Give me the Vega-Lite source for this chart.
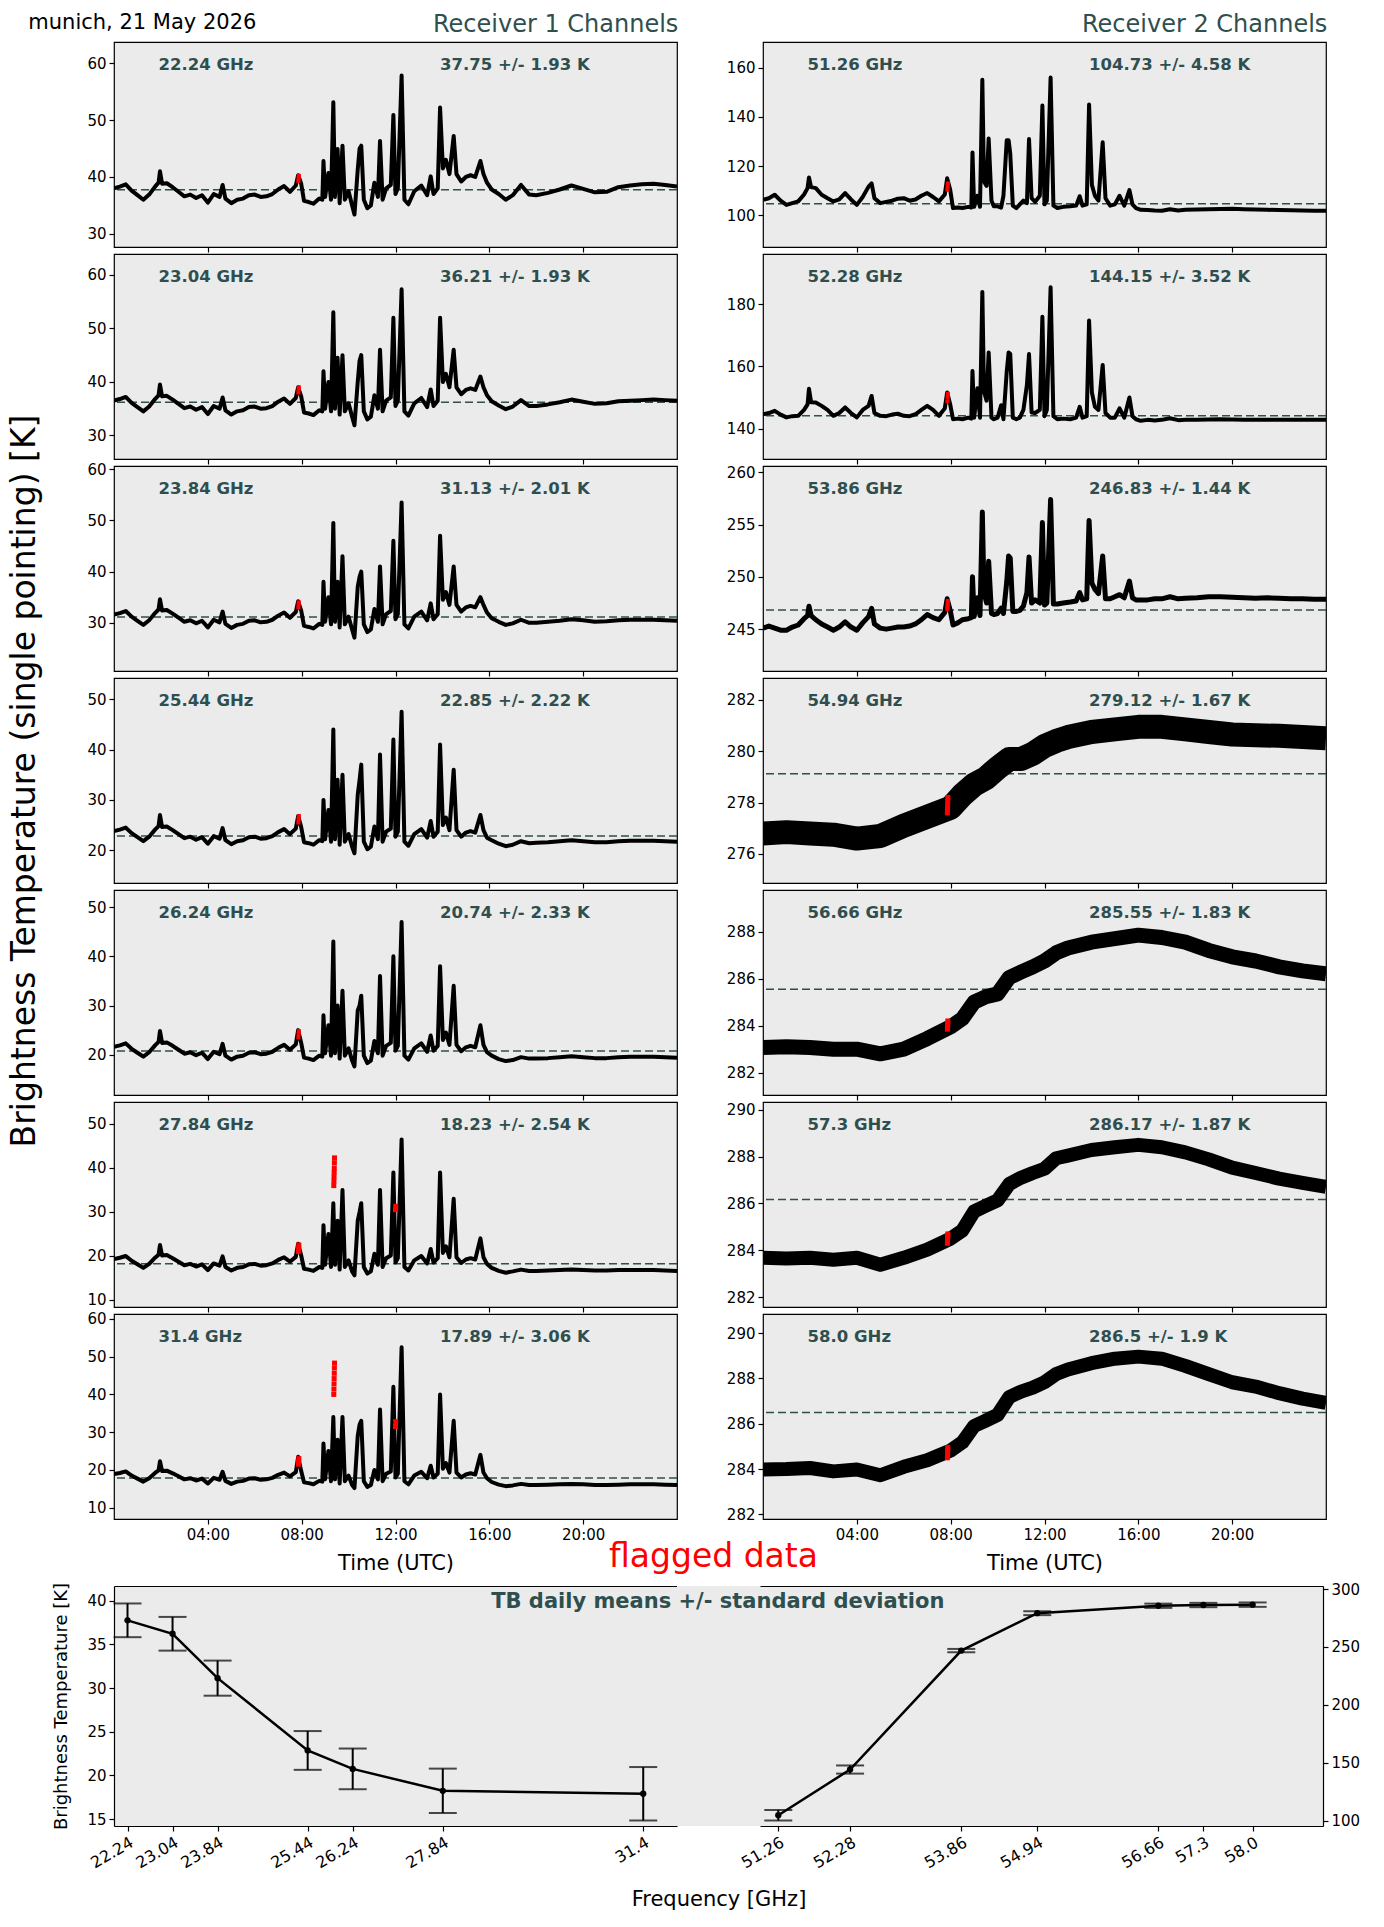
{
  "$schema": "https://vega.github.io/schema/vega-lite/v6.json",
  "padding": {"left": 8, "top": 12, "right": 8, "bottom": 5},
  "config": {
    "font": "DejaVu Sans",
    "view": {"fill": "#ebebeb", "stroke": "black", "strokeWidth": 1.2},
    "axis": {"labelFont": "DejaVu Sans", "labelFontSize": 15, "labelColor": "black", "tickColor": "black", "tickSize": 5, "tickWidth": 1.2, "labelPadding": 3, "domain": false, "domainColor": "black", "domainWidth": 1.2, "grid": false, "titleFont": "DejaVu Sans", "titleFontWeight": "normal", "titleColor": "black", "titleFontSize": 21},
    "title": {"font": "DejaVu Sans", "fontWeight": "normal", "color": "black"},
    "text": {"font": "DejaVu Sans", "fontWeight": "bold", "fontSize": 16.5, "color": "#2f4f4f", "align": "left", "baseline": "middle"}
  },
  "datasets": {
    "tb": [
      {"t":0,"a":38.0,"b":36.5,"c":31.6,"d":23.8,"e":21.6,"f":19.3,"g":18.9,"h":106.4,"i":144.6,"j":245.1},
      {"t":0.25,"a":38.3,"b":36.8,"c":31.9,"d":24.1,"e":21.9,"f":19.6,"g":19.2,"h":107.0,"i":145.0,"j":245.3},
      {"t":0.5,"a":38.7,"b":37.2,"c":32.3,"d":24.5,"e":22.3,"f":20.0,"g":19.6,"h":108.4,"i":145.7,"j":245.1},
      {"t":0.75,"a":37.6,"b":36.1,"c":31.2,"d":23.4,"e":21.2,"f":18.9,"g":18.5,"h":106.0,"i":144.5,"j":244.9},
      {"t":1.0,"a":36.8,"b":35.3,"c":30.4,"d":22.6,"e":20.4,"f":18.1,"g":17.7,"h":104.3,"i":143.6,"j":244.9},
      {"t":1.25,"a":36.0,"b":34.5,"c":29.6,"d":21.8,"e":19.6,"f":17.3,"g":16.9,"h":105.0,"i":144.0,"j":245.2},
      {"t":1.5,"a":36.9,"b":35.4,"c":30.5,"d":22.7,"e":20.5,"f":18.2,"g":17.8,"h":105.7,"i":144.1,"j":245.4},
      {"t":1.75,"a":38.3,"b":36.8,"c":31.9,"d":24.1,"e":21.9,"f":19.6,"g":19.2,"h":108.5,"i":146.0,"j":246.0},
      {"t":1.9,"a":39.0,"b":37.5,"c":32.6,"d":24.8,"e":22.6,"f":20.3,"g":19.9,"h":111.1,"i":147.8,"j":246.3},
      {"t":1.96,"a":41.0,"b":39.5,"c":34.6,"d":27.0,"e":24.8,"f":22.5,"g":22.3,"h":115.4,"i":152.8,"j":247.2},
      {"t":2.05,"a":38.8,"b":37.3,"c":32.4,"d":24.6,"e":22.4,"f":20.1,"g":19.7,"h":111.5,"i":148.5,"j":246.3},
      {"t":2.25,"a":38.9,"b":37.4,"c":32.5,"d":24.7,"e":22.5,"f":20.2,"g":19.8,"h":111.1,"i":148.4,"j":245.9},
      {"t":2.5,"a":38.2,"b":36.7,"c":31.8,"d":24.0,"e":21.8,"f":19.5,"g":19.1,"h":108.4,"i":147.3,"j":245.5},
      {"t":2.75,"a":37.4,"b":35.9,"c":31.0,"d":23.2,"e":21.0,"f":18.7,"g":18.3,"h":107.0,"i":146.0,"j":245.2},
      {"t":3.0,"a":36.6,"b":35.1,"c":30.2,"d":22.4,"e":20.2,"f":17.9,"g":17.5,"h":105.7,"i":144.1,"j":244.9},
      {"t":3.25,"a":36.9,"b":35.4,"c":30.5,"d":22.7,"e":20.5,"f":18.2,"g":17.8,"h":106.5,"i":145.0,"j":245.2},
      {"t":3.5,"a":36.3,"b":34.8,"c":29.9,"d":22.1,"e":19.9,"f":17.6,"g":17.2,"h":109.1,"i":146.8,"j":245.7},
      {"t":3.75,"a":36.8,"b":35.3,"c":30.4,"d":22.6,"e":20.4,"f":18.1,"g":17.7,"h":106.5,"i":145.0,"j":245.2},
      {"t":4.0,"a":35.5,"b":34.0,"c":29.1,"d":21.3,"e":19.1,"f":16.8,"g":16.4,"h":104.3,"i":143.6,"j":244.9},
      {"t":4.25,"a":37.0,"b":35.5,"c":30.6,"d":22.8,"e":20.6,"f":18.3,"g":17.9,"h":107.5,"i":146.0,"j":245.6},
      {"t":4.5,"a":36.5,"b":35.0,"c":30.1,"d":22.3,"e":20.1,"f":17.8,"g":17.4,"h":111.7,"i":147.3,"j":246.2},
      {"t":4.63,"a":38.6,"b":37.1,"c":32.2,"d":24.4,"e":22.2,"f":19.9,"g":19.5,"h":113.0,"i":150.5,"j":247.0},
      {"t":4.75,"a":36.2,"b":34.7,"c":29.8,"d":22.0,"e":19.8,"f":17.5,"g":17.1,"h":107.0,"i":145.0,"j":245.5},
      {"t":5.0,"a":35.4,"b":33.9,"c":29.0,"d":21.2,"e":19.0,"f":16.7,"g":16.3,"h":105.0,"i":144.1,"j":245.1},
      {"t":5.25,"a":36.0,"b":34.5,"c":29.6,"d":21.8,"e":19.6,"f":17.3,"g":16.9,"h":105.5,"i":144.0,"j":245.0},
      {"t":5.5,"a":36.2,"b":34.7,"c":29.8,"d":22.0,"e":19.8,"f":17.5,"g":17.1,"h":106.0,"i":144.5,"j":245.1},
      {"t":5.75,"a":36.8,"b":35.3,"c":30.4,"d":22.6,"e":20.4,"f":18.1,"g":17.7,"h":106.8,"i":144.8,"j":245.2},
      {"t":6.0,"a":36.9,"b":35.4,"c":30.5,"d":22.7,"e":20.5,"f":18.2,"g":17.8,"h":107.0,"i":144.1,"j":245.2},
      {"t":6.25,"a":36.5,"b":35.0,"c":30.1,"d":22.3,"e":20.1,"f":17.8,"g":17.4,"h":106.0,"i":144.0,"j":245.3},
      {"t":6.5,"a":36.6,"b":35.1,"c":30.2,"d":22.4,"e":20.2,"f":17.9,"g":17.5,"h":106.5,"i":144.6,"j":245.5},
      {"t":6.75,"a":37.0,"b":35.5,"c":30.6,"d":22.8,"e":20.6,"f":18.3,"g":17.9,"h":108.0,"i":146.0,"j":245.9},
      {"t":7.0,"a":37.8,"b":36.3,"c":31.4,"d":23.6,"e":21.4,"f":19.1,"g":18.7,"h":109.1,"i":147.3,"j":246.4},
      {"t":7.25,"a":38.4,"b":36.9,"c":32.0,"d":24.2,"e":22.0,"f":19.7,"g":19.3,"h":107.5,"i":146.0,"j":246.1},
      {"t":7.5,"a":37.4,"b":35.9,"c":31.0,"d":23.2,"e":21.0,"f":18.7,"g":18.3,"h":105.7,"i":144.1,"j":245.9},
      {"t":7.75,"a":38.5,"b":37.0,"c":32.1,"d":24.3,"e":22.1,"f":19.8,"g":19.4,"h":108.5,"i":146.5,"j":246.6},
      {"t":7.85,"a":40.3,"b":39.0,"c":34.2,"d":26.8,"e":25.0,"f":22.8,"g":23.5,"h":115.1,"i":151.6,"j":247.9},
      {"t":7.98,"a":38.8,"b":37.3,"c":32.4,"d":24.6,"e":22.4,"f":20.1,"g":19.7,"h":110.4,"i":147.8,"j":246.8},
      {"t":8.1,"a":35.8,"b":34.3,"c":29.4,"d":21.6,"e":19.4,"f":17.1,"g":16.7,"h":103.0,"i":143.0,"j":245.4},
      {"t":8.3,"a":35.6,"b":34.1,"c":29.2,"d":21.4,"e":19.2,"f":16.9,"g":16.5,"h":103.2,"i":143.2,"j":245.6},
      {"t":8.5,"a":35.3,"b":33.8,"c":28.9,"d":21.1,"e":18.9,"f":16.6,"g":16.2,"h":103.0,"i":143.0,"j":245.9},
      {"t":8.75,"a":36.2,"b":34.7,"c":29.8,"d":22.0,"e":19.8,"f":17.5,"g":17.1,"h":103.5,"i":143.5,"j":246.0},
      {"t":8.88,"a":36.0,"b":34.5,"c":29.6,"d":21.8,"e":19.6,"f":17.3,"g":16.9,"h":103.2,"i":143.2,"j":246.1},
      {"t":8.93,"a":42.8,"b":42.0,"c":38.0,"d":30.0,"e":28.0,"f":27.0,"g":27.0,"h":125.6,"i":158.5,"j":250.0},
      {"t":9.0,"a":36.5,"b":35.0,"c":30.2,"d":22.2,"e":20.3,"f":18.0,"g":17.5,"h":103.5,"i":143.5,"j":246.2},
      {"t":9.14,"a":40.7,"b":40.0,"c":35.0,"d":28.0,"e":26.0,"f":25.0,"g":25.0,"h":108.0,"i":153.0,"j":248.0},
      {"t":9.25,"a":36.0,"b":34.5,"c":29.7,"d":21.7,"e":19.8,"f":17.5,"g":17.0,"h":103.5,"i":143.5,"j":246.3},
      {"t":9.35,"a":53.1,"b":53.0,"c":49.5,"d":44.0,"e":43.0,"f":32.0,"g":34.0,"h":155.1,"i":184.0,"j":256.2},
      {"t":9.42,"a":36.5,"b":35.0,"c":30.2,"d":22.2,"e":20.3,"f":18.0,"g":17.5,"h":113.8,"i":152.0,"j":248.5},
      {"t":9.53,"a":44.9,"b":44.5,"c":38.0,"d":34.0,"e":30.0,"f":28.0,"g":28.0,"h":112.0,"i":149.0,"j":247.5},
      {"t":9.62,"a":35.4,"b":33.9,"c":29.1,"d":21.1,"e":19.2,"f":16.9,"g":16.4,"h":131.2,"i":164.5,"j":251.5},
      {"t":9.74,"a":45.5,"b":45.0,"c":43.0,"d":35.0,"e":33.0,"f":35.0,"g":34.0,"h":106.0,"i":143.5,"j":246.5},
      {"t":9.84,"a":36.0,"b":34.5,"c":29.7,"d":21.7,"e":19.8,"f":17.5,"g":17.0,"h":103.7,"i":143.0,"j":246.4},
      {"t":10.0,"a":37.5,"b":36.0,"c":31.2,"d":23.2,"e":21.3,"f":19.0,"g":18.5,"h":103.7,"i":143.5,"j":246.5},
      {"t":10.15,"a":35.0,"b":33.5,"c":28.7,"d":20.7,"e":18.8,"f":16.5,"g":16.0,"h":103.2,"i":147.5,"j":247.0},
      {"t":10.25,"a":33.4,"b":31.9,"c":27.1,"d":19.4,"e":17.6,"f":15.6,"g":15.2,"h":108.0,"i":143.0,"j":246.5},
      {"t":10.39,"a":41.3,"b":40.0,"c":37.0,"d":31.0,"e":29.0,"f":28.0,"g":29.0,"h":130.5,"i":158.3,"j":249.5},
      {"t":10.47,"a":45.0,"b":44.0,"c":39.0,"d":34.0,"e":30.0,"f":30.0,"g":32.0,"h":130.5,"i":164.5,"j":252.0},
      {"t":10.54,"a":45.5,"b":45.0,"c":40.0,"d":37.0,"e":32.0,"f":32.0,"g":33.0,"h":125.0,"i":164.0,"j":251.8},
      {"t":10.65,"a":36.0,"b":34.5,"c":29.7,"d":21.7,"e":19.8,"f":17.5,"g":17.0,"h":104.0,"i":143.5,"j":246.7},
      {"t":10.8,"a":34.5,"b":33.0,"c":28.2,"d":20.2,"e":18.3,"f":16.0,"g":15.5,"h":103.0,"i":143.0,"j":246.7},
      {"t":10.95,"a":35.0,"b":33.5,"c":28.7,"d":20.7,"e":18.8,"f":16.5,"g":16.0,"h":104.5,"i":143.5,"j":246.8},
      {"t":11.1,"a":39.0,"b":37.5,"c":32.7,"d":24.7,"e":22.8,"f":20.5,"g":20.0,"h":106.0,"i":146.0,"j":247.2},
      {"t":11.25,"a":36.5,"b":35.0,"c":30.2,"d":22.2,"e":20.3,"f":18.0,"g":17.5,"h":105.0,"i":154.0,"j":248.5},
      {"t":11.34,"a":46.3,"b":46.0,"c":41.0,"d":39.0,"e":36.0,"f":35.0,"g":36.0,"h":131.0,"i":164.0,"j":251.9},
      {"t":11.45,"a":36.0,"b":34.5,"c":29.7,"d":21.7,"e":19.8,"f":17.5,"g":17.0,"h":107.0,"i":145.2,"j":247.5},
      {"t":11.6,"a":38.0,"b":36.5,"c":31.7,"d":23.7,"e":21.8,"f":19.5,"g":19.0,"h":105.5,"i":145.0,"j":247.8},
      {"t":11.8,"a":38.6,"b":37.1,"c":32.3,"d":24.3,"e":22.4,"f":20.1,"g":19.6,"h":108.0,"i":146.0,"j":247.5},
      {"t":11.91,"a":50.9,"b":52.0,"c":46.0,"d":42.0,"e":40.0,"f":39.0,"g":42.0,"h":144.6,"i":176.0,"j":255.2},
      {"t":12.0,"a":37.0,"b":35.5,"c":30.7,"d":22.7,"e":20.8,"f":18.5,"g":18.0,"h":104.5,"i":144.0,"j":247.3},
      {"t":12.1,"a":38.0,"b":36.5,"c":31.7,"d":23.7,"e":21.8,"f":19.5,"g":19.0,"h":106.0,"i":146.0,"j":247.5},
      {"t":12.26,"a":57.8,"b":57.3,"c":53.5,"d":47.5,"e":47.0,"f":46.5,"g":52.5,"h":156.0,"i":185.5,"j":257.4},
      {"t":12.38,"a":36.0,"b":34.5,"c":29.7,"d":21.7,"e":19.8,"f":17.5,"g":17.0,"h":104.0,"i":144.0,"j":247.4},
      {"t":12.55,"a":35.2,"b":33.7,"c":28.9,"d":20.9,"e":19.0,"f":16.7,"g":16.2,"h":103.0,"i":143.0,"j":247.4},
      {"t":12.8,"a":37.5,"b":36.0,"c":31.2,"d":23.2,"e":21.3,"f":19.0,"g":18.5,"h":103.5,"i":143.2,"j":247.5},
      {"t":13.1,"a":38.5,"b":37.0,"c":32.2,"d":24.2,"e":22.3,"f":20.0,"g":19.5,"h":103.7,"i":143.0,"j":247.6},
      {"t":13.35,"a":36.8,"b":35.3,"c":30.5,"d":22.5,"e":20.6,"f":18.3,"g":17.8,"h":104.0,"i":143.5,"j":247.7},
      {"t":13.5,"a":40.1,"b":38.6,"c":33.8,"d":25.8,"e":23.9,"f":21.6,"g":21.1,"h":107.8,"i":147.0,"j":248.5},
      {"t":13.62,"a":37.0,"b":35.5,"c":30.7,"d":22.7,"e":20.8,"f":18.5,"g":18.0,"h":104.0,"i":143.5,"j":247.8},
      {"t":13.8,"a":38.0,"b":36.5,"c":31.7,"d":23.7,"e":21.8,"f":19.5,"g":19.0,"h":104.5,"i":144.0,"j":247.9},
      {"t":13.9,"a":52.2,"b":52.0,"c":47.0,"d":41.0,"e":38.0,"f":39.0,"g":40.0,"h":145.0,"i":174.8,"j":255.4},
      {"t":14.02,"a":41.5,"b":40.0,"c":34.5,"d":25.0,"e":23.0,"f":20.7,"g":20.3,"h":112.4,"i":151.6,"j":249.4},
      {"t":14.15,"a":43.0,"b":41.5,"c":36.0,"d":26.5,"e":24.5,"f":22.2,"g":21.8,"h":108.0,"i":147.0,"j":248.8},
      {"t":14.3,"a":40.5,"b":39.0,"c":33.5,"d":24.0,"e":22.0,"f":19.7,"g":19.3,"h":106.0,"i":146.0,"j":248.4},
      {"t":14.48,"a":47.2,"b":46.0,"c":41.0,"d":36.0,"e":34.0,"f":33.0,"g":33.0,"h":129.7,"i":160.5,"j":252.0},
      {"t":14.6,"a":40.5,"b":39.0,"c":33.5,"d":24.0,"e":22.0,"f":19.7,"g":19.3,"h":107.0,"i":145.0,"j":247.9},
      {"t":14.8,"a":39.2,"b":37.7,"c":32.2,"d":22.7,"e":20.7,"f":18.4,"g":18.0,"h":104.0,"i":143.5,"j":247.9},
      {"t":15.0,"a":40.0,"b":38.5,"c":33.0,"d":23.5,"e":21.5,"f":19.2,"g":18.8,"h":104.5,"i":143.5,"j":248.1},
      {"t":15.2,"a":40.3,"b":38.8,"c":33.3,"d":23.8,"e":21.8,"f":19.5,"g":19.1,"h":108.0,"i":146.5,"j":248.3},
      {"t":15.4,"a":40.0,"b":38.5,"c":33.0,"d":23.5,"e":21.5,"f":19.2,"g":18.8,"h":104.0,"i":143.5,"j":248.0},
      {"t":15.62,"a":42.8,"b":41.0,"c":35.0,"d":27.0,"e":26.0,"f":24.0,"g":24.0,"h":110.3,"i":150.0,"j":249.6},
      {"t":15.75,"a":40.5,"b":39.0,"c":33.5,"d":24.0,"e":22.0,"f":19.7,"g":19.3,"h":104.5,"i":144.0,"j":248.0},
      {"t":15.9,"a":39.0,"b":37.5,"c":32.0,"d":22.5,"e":20.5,"f":18.2,"g":17.8,"h":103.0,"i":143.0,"j":247.8},
      {"t":16.1,"a":37.8,"b":36.4,"c":30.9,"d":22.0,"e":19.8,"f":17.3,"g":16.8,"h":102.3,"i":142.5,"j":247.8},
      {"t":16.4,"a":37.0,"b":35.6,"c":30.2,"d":21.3,"e":19.1,"f":16.6,"g":16.1,"h":102.2,"i":142.8,"j":247.8},
      {"t":16.7,"a":36.0,"b":34.9,"c":29.6,"d":20.8,"e":18.7,"f":16.2,"g":15.7,"h":102.0,"i":142.6,"j":247.9},
      {"t":17.0,"a":36.8,"b":35.4,"c":29.9,"d":21.1,"e":18.9,"f":16.5,"g":15.9,"h":101.9,"i":142.8,"j":247.9},
      {"t":17.35,"a":38.6,"b":36.6,"c":30.6,"d":21.8,"e":19.5,"f":16.9,"g":16.3,"h":102.5,"i":143.3,"j":248.1},
      {"t":17.7,"a":36.9,"b":35.5,"c":30.0,"d":21.4,"e":19.2,"f":16.6,"g":16.0,"h":102.0,"i":142.7,"j":247.9},
      {"t":18.0,"a":36.8,"b":35.5,"c":30.0,"d":21.5,"e":19.2,"f":16.6,"g":16.0,"h":102.3,"i":142.8,"j":247.95},
      {"t":18.5,"a":37.2,"b":35.8,"c":30.2,"d":21.6,"e":19.3,"f":16.7,"g":16.1,"h":102.4,"i":142.8,"j":248.0},
      {"t":19.0,"a":37.8,"b":36.2,"c":30.4,"d":21.8,"e":19.5,"f":16.8,"g":16.2,"h":102.5,"i":142.9,"j":248.1},
      {"t":19.5,"a":38.5,"b":36.7,"c":30.7,"d":22.0,"e":19.7,"f":16.9,"g":16.3,"h":102.6,"i":143.0,"j":248.1},
      {"t":20.0,"a":37.9,"b":36.3,"c":30.5,"d":21.8,"e":19.5,"f":16.8,"g":16.2,"h":102.7,"i":142.9,"j":248.05},
      {"t":20.5,"a":37.3,"b":35.9,"c":30.2,"d":21.6,"e":19.3,"f":16.7,"g":16.0,"h":102.5,"i":142.8,"j":248.0},
      {"t":21.0,"a":37.4,"b":36.0,"c":30.3,"d":21.6,"e":19.3,"f":16.7,"g":16.0,"h":102.4,"i":142.8,"j":247.95},
      {"t":21.5,"a":38.2,"b":36.4,"c":30.5,"d":21.8,"e":19.5,"f":16.8,"g":16.1,"h":102.3,"i":142.8,"j":248.0},
      {"t":22.0,"a":38.5,"b":36.5,"c":30.6,"d":21.9,"e":19.6,"f":16.8,"g":16.2,"h":102.2,"i":142.8,"j":247.95},
      {"t":22.5,"a":38.7,"b":36.6,"c":30.6,"d":21.9,"e":19.6,"f":16.8,"g":16.2,"h":102.1,"i":142.8,"j":247.9},
      {"t":23.0,"a":38.8,"b":36.7,"c":30.6,"d":21.9,"e":19.6,"f":16.8,"g":16.2,"h":102.0,"i":142.8,"j":247.9},
      {"t":23.5,"a":38.6,"b":36.6,"c":30.5,"d":21.8,"e":19.5,"f":16.7,"g":16.1,"h":101.9,"i":142.8,"j":247.85},
      {"t":24.0,"a":38.3,"b":36.5,"c":30.4,"d":21.7,"e":19.4,"f":16.6,"g":16.0,"h":101.9,"i":142.8,"j":247.85}
    ],
    "smooth": [
      {"t":0,"k":276.8,"l":283.07,"m":283.68,"n":283.98},
      {"t":1,"k":276.85,"l":283.1,"m":283.65,"n":284.0},
      {"t":2,"k":276.8,"l":283.07,"m":283.68,"n":284.05},
      {"t":3,"k":276.75,"l":283.0,"m":283.6,"n":283.9},
      {"t":4,"k":276.6,"l":283.0,"m":283.68,"n":283.98},
      {"t":5,"k":276.7,"l":282.8,"m":283.38,"n":283.73},
      {"t":6,"k":277.1,"l":283.0,"m":283.68,"n":284.1},
      {"t":7,"k":277.45,"l":283.45,"m":284.03,"n":284.39},
      {"t":8,"k":277.8,"l":283.95,"m":284.5,"n":284.82},
      {"t":8.5,"k":278.3,"l":284.3,"m":284.85,"n":285.18},
      {"t":9,"k":278.7,"l":285.0,"m":285.66,"n":285.9},
      {"t":9.5,"k":278.95,"l":285.23,"m":285.9,"n":286.14},
      {"t":10,"k":279.35,"l":285.35,"m":286.13,"n":286.39},
      {"t":10.5,"k":279.7,"l":286.05,"m":286.83,"n":287.18},
      {"t":11,"k":279.7,"l":286.28,"m":287.1,"n":287.42},
      {"t":11.5,"k":279.9,"l":286.5,"m":287.3,"n":287.59},
      {"t":12,"k":280.2,"l":286.75,"m":287.48,"n":287.83},
      {"t":12.5,"k":280.4,"l":287.1,"m":287.93,"n":288.19},
      {"t":13,"k":280.55,"l":287.3,"m":288.04,"n":288.39},
      {"t":14,"k":280.75,"l":287.55,"m":288.28,"n":288.67},
      {"t":15,"k":280.85,"l":287.7,"m":288.4,"n":288.87},
      {"t":16,"k":280.95,"l":287.85,"m":288.5,"n":288.96},
      {"t":17,"k":280.95,"l":287.75,"m":288.4,"n":288.87},
      {"t":18,"k":280.85,"l":287.55,"m":288.18,"n":288.55},
      {"t":19,"k":280.75,"l":287.2,"m":287.88,"n":288.19},
      {"t":20,"k":280.65,"l":286.93,"m":287.53,"n":287.83},
      {"t":21,"k":280.62,"l":286.75,"m":287.3,"n":287.64},
      {"t":22,"k":280.6,"l":286.5,"m":287.06,"n":287.35},
      {"t":23,"k":280.55,"l":286.33,"m":286.88,"n":287.11},
      {"t":24,"k":280.5,"l":286.2,"m":286.71,"n":286.92}
    ],
    "flags": [
      {"t":7.86,"a":39.3,"b":38.0,"c":33.0,"d":25.5,"e":23.5,"f":21.0,"g":21.5,"h":110.5,"i":148.8,"j":246.9,"k":277.6,"l":283.85,"m":284.3,"n":284.5},
      {"t":7.865,"j":247.1,"k":277.75,"l":283.92,"m":284.4,"n":284.62},
      {"t":7.87,"a":39.8,"b":38.6,"c":33.6,"d":26.2,"e":24.2,"f":21.8,"g":22.3,"h":111.8,"i":150.2,"j":247.3,"k":277.9,"l":284.0,"m":284.5,"n":284.75},
      {"t":7.875,"j":247.5,"k":278.05,"l":284.1,"m":284.6,"n":284.85},
      {"t":7.88,"a":40.2,"b":39.0,"c":34.0,"d":26.8,"e":24.8,"f":22.5,"g":23.0,"h":113.0,"i":151.2,"j":247.7,"k":278.2,"l":284.2,"m":284.7,"n":284.95},
      {"t":9.37,"f":36.0,"g":40.0},
      {"t":9.375,"f":37.0,"g":41.4},
      {"t":9.38,"f":38.0,"g":42.8},
      {"t":9.385,"f":39.0,"g":44.2},
      {"t":9.39,"f":40.0,"g":45.6},
      {"t":9.395,"f":41.2,"g":47.0},
      {"t":9.4,"f":42.3,"g":48.3},
      {"t":12.0,"f":30.5,"g":31.5},
      {"t":12.01,"f":31.3,"g":32.8}
    ],
    "m1": [
      {"f":22.24,"m":37.75,"s":1.93},
      {"f":23.04,"m":36.21,"s":1.93},
      {"f":23.84,"m":31.13,"s":2.01},
      {"f":25.44,"m":22.85,"s":2.22},
      {"f":26.24,"m":20.74,"s":2.33},
      {"f":27.84,"m":18.23,"s":2.54},
      {"f":31.4,"m":17.89,"s":3.06}
    ],
    "m2": [
      {"f":51.26,"m":104.73,"s":4.58},
      {"f":52.28,"m":144.15,"s":3.52},
      {"f":53.86,"m":246.83,"s":1.44},
      {"f":54.94,"m":279.12,"s":1.67},
      {"f":56.66,"m":285.55,"s":1.83},
      {"f":57.3,"m":286.17,"s":1.87},
      {"f":58.0,"m":286.5,"s":1.9}
    ]
  },
  "title": {"text": "munich, 21 May 2026", "anchor": "start", "fontSize": 21, "offset": -20, "dx": 20},
  "spacing": -33,
  "vconcat": [
    {
      "spacing": 46,
      "hconcat": [
        {
          "title": {"text": "Receiver 1 Channels", "anchor": "end", "fontSize": 24, "color": "#2f4f4f", "offset": 4},
          "bounds": "flush",
          "spacing": 7,
          "vconcat": [
            {"width": 563, "height": 205, "layer": [
              {"data": {"values": [{}]}, "mark": {"type": "rule", "color": "#2f4f4f", "strokeDash": [8, 4], "strokeWidth": 1.5}, "encoding": {"y": {"datum": 37.75, "scale": {"domain": [27.7, 63.7], "nice": false}}}},
              {"data": {"name": "tb"}, "mark": {"type": "line", "color": "black", "strokeWidth": 4, "strokeJoin": "round", "clip": true}, "encoding": {"x": {"field": "t", "type": "quantitative", "scale": {"domain": [0, 24], "nice": false}, "axis": {"values": [4, 8, 12, 16, 20], "labels": false, "title": null}}, "y": {"field": "a", "type": "quantitative", "scale": {"domain": [27.7, 63.7], "nice": false}, "axis": {"values": [30, 40, 50, 60], "title": null}}}},
              {"data": {"name": "flags"}, "mark": {"type": "square", "color": "red", "size": 16, "opacity": 1}, "encoding": {"x": {"field": "t", "type": "quantitative"}, "y": {"field": "a", "type": "quantitative", "scale": {"domain": [27.7, 63.7], "nice": false}}}},
              {"data": {"values": [{}]}, "mark": {"type": "text"}, "encoding": {"x": {"datum": 1.9}, "y": {"datum": 59.67, "scale": {"domain": [27.7, 63.7], "nice": false}}, "text": {"value": "22.24 GHz"}}},
              {"data": {"values": [{}]}, "mark": {"type": "text"}, "encoding": {"x": {"datum": 13.9}, "y": {"datum": 59.67, "scale": {"domain": [27.7, 63.7], "nice": false}}, "text": {"value": "37.75 +/- 1.93 K"}}}
            ]},
            {"width": 563, "height": 205, "layer": [
              {"data": {"values": [{}]}, "mark": {"type": "rule", "color": "#2f4f4f", "strokeDash": [8, 4], "strokeWidth": 1.5}, "encoding": {"y": {"datum": 36.21, "scale": {"domain": [25.6, 63.9], "nice": false}}}},
              {"data": {"name": "tb"}, "mark": {"type": "line", "color": "black", "strokeWidth": 4, "strokeJoin": "round", "clip": true}, "encoding": {"x": {"field": "t", "type": "quantitative", "scale": {"domain": [0, 24], "nice": false}, "axis": {"values": [4, 8, 12, 16, 20], "labels": false, "title": null}}, "y": {"field": "b", "type": "quantitative", "scale": {"domain": [25.6, 63.9], "nice": false}, "axis": {"values": [30, 40, 50, 60], "title": null}}}},
              {"data": {"name": "flags"}, "mark": {"type": "square", "color": "red", "size": 16, "opacity": 1}, "encoding": {"x": {"field": "t", "type": "quantitative"}, "y": {"field": "b", "type": "quantitative", "scale": {"domain": [25.6, 63.9], "nice": false}}}},
              {"data": {"values": [{}]}, "mark": {"type": "text"}, "encoding": {"x": {"datum": 1.9}, "y": {"datum": 59.6, "scale": {"domain": [25.6, 63.9], "nice": false}}, "text": {"value": "23.04 GHz"}}},
              {"data": {"values": [{}]}, "mark": {"type": "text"}, "encoding": {"x": {"datum": 13.9}, "y": {"datum": 59.6, "scale": {"domain": [25.6, 63.9], "nice": false}}, "text": {"value": "36.21 +/- 1.93 K"}}}
            ]},
            {"width": 563, "height": 205, "layer": [
              {"data": {"values": [{}]}, "mark": {"type": "rule", "color": "#2f4f4f", "strokeDash": [8, 4], "strokeWidth": 1.5}, "encoding": {"y": {"datum": 31.13, "scale": {"domain": [20.6, 60.6], "nice": false}}}},
              {"data": {"name": "tb"}, "mark": {"type": "line", "color": "black", "strokeWidth": 4, "strokeJoin": "round", "clip": true}, "encoding": {"x": {"field": "t", "type": "quantitative", "scale": {"domain": [0, 24], "nice": false}, "axis": {"values": [4, 8, 12, 16, 20], "labels": false, "title": null}}, "y": {"field": "c", "type": "quantitative", "scale": {"domain": [20.6, 60.6], "nice": false}, "axis": {"values": [30, 40, 50, 60], "title": null}}}},
              {"data": {"name": "flags"}, "mark": {"type": "square", "color": "red", "size": 16, "opacity": 1}, "encoding": {"x": {"field": "t", "type": "quantitative"}, "y": {"field": "c", "type": "quantitative", "scale": {"domain": [20.6, 60.6], "nice": false}}}},
              {"data": {"values": [{}]}, "mark": {"type": "text"}, "encoding": {"x": {"datum": 1.9}, "y": {"datum": 56.1, "scale": {"domain": [20.6, 60.6], "nice": false}}, "text": {"value": "23.84 GHz"}}},
              {"data": {"values": [{}]}, "mark": {"type": "text"}, "encoding": {"x": {"datum": 13.9}, "y": {"datum": 56.1, "scale": {"domain": [20.6, 60.6], "nice": false}}, "text": {"value": "31.13 +/- 2.01 K"}}}
            ]},
            {"width": 563, "height": 205, "layer": [
              {"data": {"values": [{}]}, "mark": {"type": "rule", "color": "#2f4f4f", "strokeDash": [8, 4], "strokeWidth": 1.5}, "encoding": {"y": {"datum": 22.85, "scale": {"domain": [13.5, 54.2], "nice": false}}}},
              {"data": {"name": "tb"}, "mark": {"type": "line", "color": "black", "strokeWidth": 4, "strokeJoin": "round", "clip": true}, "encoding": {"x": {"field": "t", "type": "quantitative", "scale": {"domain": [0, 24], "nice": false}, "axis": {"values": [4, 8, 12, 16, 20], "labels": false, "title": null}}, "y": {"field": "d", "type": "quantitative", "scale": {"domain": [13.5, 54.2], "nice": false}, "axis": {"values": [20, 30, 40, 50], "title": "Brightness Temperature (single pointing) [K]", "titleFontSize": 33, "titlePadding": 45}}}},
              {"data": {"name": "flags"}, "mark": {"type": "square", "color": "red", "size": 16, "opacity": 1}, "encoding": {"x": {"field": "t", "type": "quantitative"}, "y": {"field": "d", "type": "quantitative", "scale": {"domain": [13.5, 54.2], "nice": false}}}},
              {"data": {"values": [{}]}, "mark": {"type": "text"}, "encoding": {"x": {"datum": 1.9}, "y": {"datum": 49.6, "scale": {"domain": [13.5, 54.2], "nice": false}}, "text": {"value": "25.44 GHz"}}},
              {"data": {"values": [{}]}, "mark": {"type": "text"}, "encoding": {"x": {"datum": 13.9}, "y": {"datum": 49.6, "scale": {"domain": [13.5, 54.2], "nice": false}}, "text": {"value": "22.85 +/- 2.22 K"}}}
            ]},
            {"width": 563, "height": 205, "layer": [
              {"data": {"values": [{}]}, "mark": {"type": "rule", "color": "#2f4f4f", "strokeDash": [8, 4], "strokeWidth": 1.5}, "encoding": {"y": {"datum": 20.74, "scale": {"domain": [11.8, 53.5], "nice": false}}}},
              {"data": {"name": "tb"}, "mark": {"type": "line", "color": "black", "strokeWidth": 4, "strokeJoin": "round", "clip": true}, "encoding": {"x": {"field": "t", "type": "quantitative", "scale": {"domain": [0, 24], "nice": false}, "axis": {"values": [4, 8, 12, 16, 20], "labels": false, "title": null}}, "y": {"field": "e", "type": "quantitative", "scale": {"domain": [11.8, 53.5], "nice": false}, "axis": {"values": [20, 30, 40, 50], "title": null}}}},
              {"data": {"name": "flags"}, "mark": {"type": "square", "color": "red", "size": 16, "opacity": 1}, "encoding": {"x": {"field": "t", "type": "quantitative"}, "y": {"field": "e", "type": "quantitative", "scale": {"domain": [11.8, 53.5], "nice": false}}}},
              {"data": {"values": [{}]}, "mark": {"type": "text"}, "encoding": {"x": {"datum": 1.9}, "y": {"datum": 48.8, "scale": {"domain": [11.8, 53.5], "nice": false}}, "text": {"value": "26.24 GHz"}}},
              {"data": {"values": [{}]}, "mark": {"type": "text"}, "encoding": {"x": {"datum": 13.9}, "y": {"datum": 48.8, "scale": {"domain": [11.8, 53.5], "nice": false}}, "text": {"value": "20.74 +/- 2.33 K"}}}
            ]},
            {"width": 563, "height": 205, "layer": [
              {"data": {"values": [{}]}, "mark": {"type": "rule", "color": "#2f4f4f", "strokeDash": [8, 4], "strokeWidth": 1.5}, "encoding": {"y": {"datum": 18.23, "scale": {"domain": [8.4, 55.0], "nice": false}}}},
              {"data": {"name": "tb"}, "mark": {"type": "line", "color": "black", "strokeWidth": 4, "strokeJoin": "round", "clip": true}, "encoding": {"x": {"field": "t", "type": "quantitative", "scale": {"domain": [0, 24], "nice": false}, "axis": {"values": [4, 8, 12, 16, 20], "labels": false, "title": null}}, "y": {"field": "f", "type": "quantitative", "scale": {"domain": [8.4, 55.0], "nice": false}, "axis": {"values": [10, 20, 30, 40, 50], "title": null}}}},
              {"data": {"name": "flags"}, "mark": {"type": "square", "color": "red", "size": 25, "opacity": 1}, "encoding": {"x": {"field": "t", "type": "quantitative"}, "y": {"field": "f", "type": "quantitative", "scale": {"domain": [8.4, 55.0], "nice": false}}}},
              {"data": {"values": [{}]}, "mark": {"type": "text"}, "encoding": {"x": {"datum": 1.9}, "y": {"datum": 49.8, "scale": {"domain": [8.4, 55.0], "nice": false}}, "text": {"value": "27.84 GHz"}}},
              {"data": {"values": [{}]}, "mark": {"type": "text"}, "encoding": {"x": {"datum": 13.9}, "y": {"datum": 49.8, "scale": {"domain": [8.4, 55.0], "nice": false}}, "text": {"value": "18.23 +/- 2.54 K"}}}
            ]},
            {"width": 563, "height": 205, "layer": [
              {"data": {"values": [{}]}, "mark": {"type": "rule", "color": "#2f4f4f", "strokeDash": [8, 4], "strokeWidth": 1.5}, "encoding": {"y": {"datum": 17.89, "scale": {"domain": [7.0, 61.3], "nice": false}}}},
              {"data": {"name": "tb"}, "mark": {"type": "line", "color": "black", "strokeWidth": 4, "strokeJoin": "round", "clip": true}, "encoding": {"x": {"field": "t", "type": "quantitative", "scale": {"domain": [0, 24], "nice": false}, "axis": {"values": [4, 8, 12, 16, 20], "labelExpr": "(datum.value < 10 ? '0' : '') + datum.value + ':00'", "title": "Time (UTC)", "titlePadding": 10}}, "y": {"field": "g", "type": "quantitative", "scale": {"domain": [7.0, 61.3], "nice": false}, "axis": {"values": [10, 20, 30, 40, 50, 60], "title": null}}}},
              {"data": {"name": "flags"}, "mark": {"type": "square", "color": "red", "size": 25, "opacity": 1}, "encoding": {"x": {"field": "t", "type": "quantitative"}, "y": {"field": "g", "type": "quantitative", "scale": {"domain": [7.0, 61.3], "nice": false}}}},
              {"data": {"values": [{}]}, "mark": {"type": "text"}, "encoding": {"x": {"datum": 1.9}, "y": {"datum": 55.2, "scale": {"domain": [7.0, 61.3], "nice": false}}, "text": {"value": "31.4 GHz"}}},
              {"data": {"values": [{}]}, "mark": {"type": "text"}, "encoding": {"x": {"datum": 13.9}, "y": {"datum": 55.2, "scale": {"domain": [7.0, 61.3], "nice": false}}, "text": {"value": "17.89 +/- 3.06 K"}}}
            ]}
          ]
        },
        {
          "title": {"text": "Receiver 2 Channels", "anchor": "end", "fontSize": 24, "color": "#2f4f4f", "offset": 4},
          "bounds": "flush",
          "spacing": 7,
          "vconcat": [
            {"width": 563, "height": 205, "layer": [
              {"data": {"values": [{}]}, "mark": {"type": "rule", "color": "#2f4f4f", "strokeDash": [8, 4], "strokeWidth": 1.5}, "encoding": {"y": {"datum": 104.73, "scale": {"domain": [87.2, 170.4], "nice": false}}}},
              {"data": {"name": "tb"}, "mark": {"type": "line", "color": "black", "strokeWidth": 4, "strokeJoin": "round", "clip": true}, "encoding": {"x": {"field": "t", "type": "quantitative", "scale": {"domain": [0, 24], "nice": false}, "axis": {"values": [4, 8, 12, 16, 20], "labels": false, "title": null}}, "y": {"field": "h", "type": "quantitative", "scale": {"domain": [87.2, 170.4], "nice": false}, "axis": {"values": [100, 120, 140, 160], "title": null}}}},
              {"data": {"name": "flags"}, "mark": {"type": "square", "color": "red", "size": 16, "opacity": 1}, "encoding": {"x": {"field": "t", "type": "quantitative"}, "y": {"field": "h", "type": "quantitative", "scale": {"domain": [87.2, 170.4], "nice": false}}}},
              {"data": {"values": [{}]}, "mark": {"type": "text"}, "encoding": {"x": {"datum": 1.9}, "y": {"datum": 161.1, "scale": {"domain": [87.2, 170.4], "nice": false}}, "text": {"value": "51.26 GHz"}}},
              {"data": {"values": [{}]}, "mark": {"type": "text"}, "encoding": {"x": {"datum": 13.9}, "y": {"datum": 161.1, "scale": {"domain": [87.2, 170.4], "nice": false}}, "text": {"value": "104.73 +/- 4.58 K"}}}
            ]},
            {"width": 563, "height": 205, "layer": [
              {"data": {"values": [{}]}, "mark": {"type": "rule", "color": "#2f4f4f", "strokeDash": [8, 4], "strokeWidth": 1.5}, "encoding": {"y": {"datum": 144.15, "scale": {"domain": [130.2, 196.2], "nice": false}}}},
              {"data": {"name": "tb"}, "mark": {"type": "line", "color": "black", "strokeWidth": 4, "strokeJoin": "round", "clip": true}, "encoding": {"x": {"field": "t", "type": "quantitative", "scale": {"domain": [0, 24], "nice": false}, "axis": {"values": [4, 8, 12, 16, 20], "labels": false, "title": null}}, "y": {"field": "i", "type": "quantitative", "scale": {"domain": [130.2, 196.2], "nice": false}, "axis": {"values": [140, 160, 180], "title": null}}}},
              {"data": {"name": "flags"}, "mark": {"type": "square", "color": "red", "size": 16, "opacity": 1}, "encoding": {"x": {"field": "t", "type": "quantitative"}, "y": {"field": "i", "type": "quantitative", "scale": {"domain": [130.2, 196.2], "nice": false}}}},
              {"data": {"values": [{}]}, "mark": {"type": "text"}, "encoding": {"x": {"datum": 1.9}, "y": {"datum": 188.8, "scale": {"domain": [130.2, 196.2], "nice": false}}, "text": {"value": "52.28 GHz"}}},
              {"data": {"values": [{}]}, "mark": {"type": "text"}, "encoding": {"x": {"datum": 13.9}, "y": {"datum": 188.8, "scale": {"domain": [130.2, 196.2], "nice": false}}, "text": {"value": "144.15 +/- 3.52 K"}}}
            ]},
            {"width": 563, "height": 205, "layer": [
              {"data": {"values": [{}]}, "mark": {"type": "rule", "color": "#2f4f4f", "strokeDash": [8, 4], "strokeWidth": 1.5}, "encoding": {"y": {"datum": 246.83, "scale": {"domain": [241.0, 260.6], "nice": false}}}},
              {"data": {"name": "tb"}, "mark": {"type": "line", "color": "black", "strokeWidth": 5, "strokeJoin": "round", "clip": true}, "encoding": {"x": {"field": "t", "type": "quantitative", "scale": {"domain": [0, 24], "nice": false}, "axis": {"values": [4, 8, 12, 16, 20], "labels": false, "title": null}}, "y": {"field": "j", "type": "quantitative", "scale": {"domain": [241.0, 260.6], "nice": false}, "axis": {"values": [245, 250, 255, 260], "title": null}}}},
              {"data": {"name": "flags"}, "mark": {"type": "square", "color": "red", "size": 16, "opacity": 1}, "encoding": {"x": {"field": "t", "type": "quantitative"}, "y": {"field": "j", "type": "quantitative", "scale": {"domain": [241.0, 260.6], "nice": false}}}},
              {"data": {"values": [{}]}, "mark": {"type": "text"}, "encoding": {"x": {"datum": 1.9}, "y": {"datum": 258.4, "scale": {"domain": [241.0, 260.6], "nice": false}}, "text": {"value": "53.86 GHz"}}},
              {"data": {"values": [{}]}, "mark": {"type": "text"}, "encoding": {"x": {"datum": 13.9}, "y": {"datum": 258.4, "scale": {"domain": [241.0, 260.6], "nice": false}}, "text": {"value": "246.83 +/- 1.44 K"}}}
            ]},
            {"width": 563, "height": 205, "layer": [
              {"data": {"values": [{}]}, "mark": {"type": "rule", "color": "#2f4f4f", "strokeDash": [8, 4], "strokeWidth": 1.5}, "encoding": {"y": {"datum": 279.12, "scale": {"domain": [274.87, 282.85], "nice": false}}}},
              {"data": {"name": "smooth"}, "mark": {"type": "line", "color": "black", "strokeWidth": 24, "strokeJoin": "round", "clip": true}, "encoding": {"x": {"field": "t", "type": "quantitative", "scale": {"domain": [0, 24], "nice": false}, "axis": {"values": [4, 8, 12, 16, 20], "labels": false, "title": null}}, "y": {"field": "k", "type": "quantitative", "scale": {"domain": [274.87, 282.85], "nice": false}, "axis": {"values": [276, 278, 280, 282], "title": null}}}},
              {"data": {"name": "flags"}, "mark": {"type": "square", "color": "red", "size": 25, "opacity": 1}, "encoding": {"x": {"field": "t", "type": "quantitative"}, "y": {"field": "k", "type": "quantitative", "scale": {"domain": [274.87, 282.85], "nice": false}}}},
              {"data": {"values": [{}]}, "mark": {"type": "text"}, "encoding": {"x": {"datum": 1.9}, "y": {"datum": 281.96, "scale": {"domain": [274.87, 282.85], "nice": false}}, "text": {"value": "54.94 GHz"}}},
              {"data": {"values": [{}]}, "mark": {"type": "text"}, "encoding": {"x": {"datum": 13.9}, "y": {"datum": 281.96, "scale": {"domain": [274.87, 282.85], "nice": false}}, "text": {"value": "279.12 +/- 1.67 K"}}}
            ]},
            {"width": 563, "height": 205, "layer": [
              {"data": {"values": [{}]}, "mark": {"type": "rule", "color": "#2f4f4f", "strokeDash": [8, 4], "strokeWidth": 1.5}, "encoding": {"y": {"datum": 285.55, "scale": {"domain": [281.05, 289.77], "nice": false}}}},
              {"data": {"name": "smooth"}, "mark": {"type": "line", "color": "black", "strokeWidth": 15, "strokeJoin": "round", "clip": true}, "encoding": {"x": {"field": "t", "type": "quantitative", "scale": {"domain": [0, 24], "nice": false}, "axis": {"values": [4, 8, 12, 16, 20], "labels": false, "title": null}}, "y": {"field": "l", "type": "quantitative", "scale": {"domain": [281.05, 289.77], "nice": false}, "axis": {"values": [282, 284, 286, 288], "title": null}}}},
              {"data": {"name": "flags"}, "mark": {"type": "square", "color": "red", "size": 25, "opacity": 1}, "encoding": {"x": {"field": "t", "type": "quantitative"}, "y": {"field": "l", "type": "quantitative", "scale": {"domain": [281.05, 289.77], "nice": false}}}},
              {"data": {"values": [{}]}, "mark": {"type": "text"}, "encoding": {"x": {"datum": 1.9}, "y": {"datum": 288.8, "scale": {"domain": [281.05, 289.77], "nice": false}}, "text": {"value": "56.66 GHz"}}},
              {"data": {"values": [{}]}, "mark": {"type": "text"}, "encoding": {"x": {"datum": 13.9}, "y": {"datum": 288.8, "scale": {"domain": [281.05, 289.77], "nice": false}}, "text": {"value": "285.55 +/- 1.83 K"}}}
            ]},
            {"width": 563, "height": 205, "layer": [
              {"data": {"values": [{}]}, "mark": {"type": "rule", "color": "#2f4f4f", "strokeDash": [8, 4], "strokeWidth": 1.5}, "encoding": {"y": {"datum": 286.17, "scale": {"domain": [281.58, 290.33], "nice": false}}}},
              {"data": {"name": "smooth"}, "mark": {"type": "line", "color": "black", "strokeWidth": 14, "strokeJoin": "round", "clip": true}, "encoding": {"x": {"field": "t", "type": "quantitative", "scale": {"domain": [0, 24], "nice": false}, "axis": {"values": [4, 8, 12, 16, 20], "labels": false, "title": null}}, "y": {"field": "m", "type": "quantitative", "scale": {"domain": [281.58, 290.33], "nice": false}, "axis": {"values": [282, 284, 286, 288, 290], "title": null}}}},
              {"data": {"name": "flags"}, "mark": {"type": "square", "color": "red", "size": 25, "opacity": 1}, "encoding": {"x": {"field": "t", "type": "quantitative"}, "y": {"field": "m", "type": "quantitative", "scale": {"domain": [281.58, 290.33], "nice": false}}}},
              {"data": {"values": [{}]}, "mark": {"type": "text"}, "encoding": {"x": {"datum": 1.9}, "y": {"datum": 289.35, "scale": {"domain": [281.58, 290.33], "nice": false}}, "text": {"value": "57.3 GHz"}}},
              {"data": {"values": [{}]}, "mark": {"type": "text"}, "encoding": {"x": {"datum": 13.9}, "y": {"datum": 289.35, "scale": {"domain": [281.58, 290.33], "nice": false}}, "text": {"value": "286.17 +/- 1.87 K"}}}
            ]},
            {"width": 563, "height": 205, "layer": [
              {"data": {"values": [{}]}, "mark": {"type": "rule", "color": "#2f4f4f", "strokeDash": [8, 4], "strokeWidth": 1.5}, "encoding": {"y": {"datum": 286.5, "scale": {"domain": [281.8, 290.84], "nice": false}}}},
              {"data": {"name": "smooth"}, "mark": {"type": "line", "color": "black", "strokeWidth": 14, "strokeJoin": "round", "clip": true}, "encoding": {"x": {"field": "t", "type": "quantitative", "scale": {"domain": [0, 24], "nice": false}, "axis": {"values": [4, 8, 12, 16, 20], "labelExpr": "(datum.value < 10 ? '0' : '') + datum.value + ':00'", "title": "Time (UTC)", "titlePadding": 10}}, "y": {"field": "n", "type": "quantitative", "scale": {"domain": [281.8, 290.84], "nice": false}, "axis": {"values": [282, 284, 286, 288, 290], "title": null}}}},
              {"data": {"name": "flags"}, "mark": {"type": "square", "color": "red", "size": 25, "opacity": 1}, "encoding": {"x": {"field": "t", "type": "quantitative"}, "y": {"field": "n", "type": "quantitative", "scale": {"domain": [281.8, 290.84], "nice": false}}}},
              {"data": {"values": [{}]}, "mark": {"type": "text"}, "encoding": {"x": {"datum": 1.9}, "y": {"datum": 289.83, "scale": {"domain": [281.8, 290.84], "nice": false}}, "text": {"value": "58.0 GHz"}}},
              {"data": {"values": [{}]}, "mark": {"type": "text"}, "encoding": {"x": {"datum": 13.9}, "y": {"datum": 289.83, "scale": {"domain": [281.8, 290.84], "nice": false}}, "text": {"value": "286.5 +/- 1.9 K"}}}
            ]}
          ]
        }
      ]
    },
    {
      "title": {"text": "flagged data", "color": "red", "fontSize": 33, "offset": 8, "anchor": "start", "frame": "group", "dx": 495},
      "bounds": "flush",
      "spacing": 0,
      "hconcat": [
        {"width": 563, "height": 240, "view": {"fill": "#ebebeb", "stroke": null}, "data": {"name": "m1"},
          "resolve": {"axis": {"x": "independent"}},
          "layer": [
            {"mark": {"type": "line", "color": "black", "strokeWidth": 2.5},
              "encoding": {
                "x": {"field": "f", "type": "quantitative", "scale": {"domain": [22, 32], "nice": false}, "axis": {"values": [22.24, 23.04, 23.84, 25.44, 26.24, 27.84, 31.4], "labelExpr": "format(datum.value, '.2~f')", "labelAngle": -30, "labelAlign": "right", "labelBaseline": "top", "labelFlush": false, "labelOverlap": false, "labelFontSize": 16, "domain": true, "title": null}},
                "y": {"field": "m", "type": "quantitative", "title": "Brightness Temperature [K]", "scale": {"domain": [14.2, 41.68], "nice": false}, "axis": {"values": [15, 20, 25, 30, 35, 40], "domain": true, "title": "Brightness Temperature [K]", "titleFontSize": 18, "titlePadding": 16}}}},
            {"mark": {"type": "point", "filled": true, "color": "black", "size": 40, "opacity": 1},
              "encoding": {"x": {"field": "f", "type": "quantitative", "scale": {"domain": [22, 32], "nice": false}, "axis": null}, "y": {"field": "m", "type": "quantitative", "title": "Brightness Temperature [K]", "scale": {"domain": [14.2, 41.68], "nice": false}}}},
            {"mark": {"type": "errorbar", "ticks": {"size": 28}, "thickness": 2, "color": "black"},
              "encoding": {"x": {"field": "f", "type": "quantitative", "scale": {"domain": [22, 32], "nice": false}, "axis": {"orient": "top", "labels": false, "ticks": false, "domain": true, "title": null}}, "y": {"field": "m", "type": "quantitative", "title": "Brightness Temperature [K]", "scale": {"domain": [14.2, 41.68], "nice": false}}, "yError": {"field": "s"}}}
          ]
        },
        {"width": 83, "height": 240, "view": {"fill": "#ebebeb", "stroke": null}, "data": {"values": [{}]}, "mark": {"type": "point", "opacity": 0},
          "encoding": {"x": {"datum": 0, "type": "quantitative", "axis": {"labels": false, "ticks": false, "domain": false, "title": "Frequency [GHz]", "titlePadding": 62}}}},
        {"width": 563, "height": 240, "view": {"fill": "#ebebeb", "stroke": null}, "data": {"name": "m2"},
          "resolve": {"axis": {"x": "independent"}},
          "layer": [
            {"mark": {"type": "line", "color": "black", "strokeWidth": 2.5},
              "encoding": {
                "x": {"field": "f", "type": "quantitative", "scale": {"domain": [51, 59], "nice": false}, "axis": {"values": [51.26, 52.28, 53.86, 54.94, 56.66, 57.3, 58.0], "labelExpr": "datum.value == 58 ? '58.0' : format(datum.value, '.2~f')", "labelAngle": -30, "labelAlign": "right", "labelBaseline": "top", "labelFlush": false, "labelOverlap": false, "labelFontSize": 16, "domain": true, "title": null}},
                "y": {"field": "m", "type": "quantitative", "title": null, "scale": {"domain": [95.4, 302.6], "nice": false}, "axis": {"orient": "right", "values": [100, 150, 200, 250, 300], "domain": true, "title": null}}}},
            {"mark": {"type": "point", "filled": true, "color": "black", "size": 40, "opacity": 1},
              "encoding": {"x": {"field": "f", "type": "quantitative", "scale": {"domain": [51, 59], "nice": false}, "axis": null}, "y": {"field": "m", "type": "quantitative", "title": null, "scale": {"domain": [95.4, 302.6], "nice": false}}}},
            {"mark": {"type": "errorbar", "ticks": {"size": 28}, "thickness": 2, "color": "black"},
              "encoding": {"x": {"field": "f", "type": "quantitative", "scale": {"domain": [51, 59], "nice": false}, "axis": {"orient": "top", "labels": false, "ticks": false, "domain": true, "title": null}}, "y": {"field": "m", "type": "quantitative", "title": null, "scale": {"domain": [95.4, 302.6], "nice": false}}, "yError": {"field": "s"}}},
            {"data": {"values": [{}]}, "mark": {"type": "text", "fontSize": 21, "align": "center"},
              "encoding": {"x": {"datum": 50.4, "scale": {"domain": [51, 59], "nice": false}, "axis": null}, "y": {"datum": 288.8, "scale": {"domain": [95.4, 302.6], "nice": false}}, "text": {"value": "TB daily means +/- standard deviation"}}}
          ]
        }
      ]
    }
  ]
}
